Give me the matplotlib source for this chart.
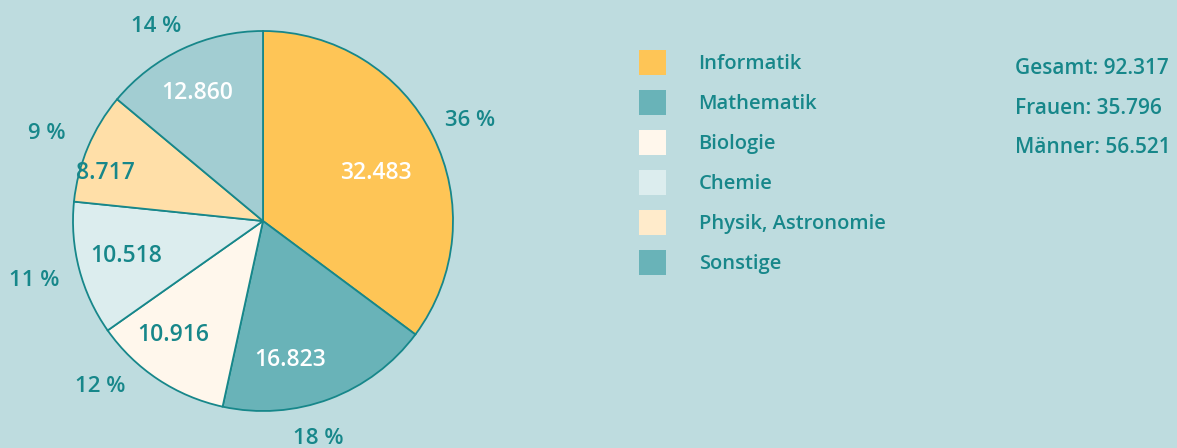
import numpy as np
import matplotlib.pyplot as plt
from matplotlib.patches import Patch

# Daten
faecher = ['Informatik', 'Mathematik', 'Biologie', 'Chemie', 'Physik, Astronomie', 'Sonstige']
anzahl = [32483, 16823, 10916, 10518, 8717, 12860]
prozent = [36, 18, 12, 11, 9, 14]
frauen = 35796
maenner = 56521

# Farben
bg = '#bedcdf'
teal = '#17878a'
pie_farben = ['#fec556', '#69b3b8', '#fff7ec', '#dcedee', '#ffdfa8', '#a2cdd2']
legende_farben = ['#fec556', '#69b3b8', '#fff7ec', '#dcedee', '#ffebcb', '#69b3b8']
wert_farben = ['white', 'white', teal, teal, teal, 'white']

# Feinjustierung der Beschriftungen (Winkelversatz in Grad, Abstand in Radien)
prozent_versatz = [(-0.2, 1.22), (-6.2, 1.17), (-11.4, 1.21), (-0.6, 1.24), (0.3, 1.23), (3.4, 1.18)]
wert_versatz = [(-2.2, 0.65), (-9.3, 0.73), (-5.4, 0.75), (-1.6, 0.74), (4.9, 0.87), (1.6, 0.77)]


def de(n):
    return f'{n:,}'.replace(',', '.')


plt.rcParams['font.family'] = ['Open Sans', 'DejaVu Sans']

W, H = 1177, 448
cx, cy, r = 263, 227, 190
fig = plt.figure(figsize=(W / 100, H / 100), dpi=100, facecolor=bg)
ax = fig.add_axes([0, 0, 1, 1], facecolor=bg)

wedges, texts, autotexts = ax.pie(
    anzahl, colors=pie_farben, startangle=90, counterclock=False,
    center=(cx, cy), radius=r, frame=True,
    labels=[f'{p} %' for p in prozent], labeldistance=1.2,
    autopct='%1.0f', pctdistance=0.75,
    wedgeprops=dict(edgecolor=teal, linewidth=1.3),
    textprops=dict(fontsize=16, color=teal, fontweight='semibold'))
ax.set_xlim(0, W)
ax.set_ylim(0, H)
ax.set_aspect('equal')
ax.axis('off')

for w, t, a, (dp, rp), (dw, rw), c, v in zip(wedges, texts, autotexts,
                                               prozent_versatz, wert_versatz,
                                               wert_farben, anzahl):
    mitte = (w.theta1 + w.theta2) / 2
    phi = np.deg2rad(mitte + dp)
    t.set_position((cx + rp * r * np.cos(phi), cy + rp * r * np.sin(phi)))
    t.set_ha('center')
    t.set_va('center_baseline')
    phi = np.deg2rad(mitte + dw)
    a.set_position((cx + rw * r * np.cos(phi), cy + rw * r * np.sin(phi)))
    a.set_text(de(v))
    a.set_color(c)
    a.set_fontsize(16.5)
    a.set_va('center_baseline')

handles = [Patch(facecolor=c, edgecolor='none') for c in legende_farben]
leg = ax.legend(handles, faecher, loc='upper left', bbox_to_anchor=(639 / W, 1 - 50 / H),
                frameon=False, fontsize=14.5, handlelength=1.36, handleheight=1.5,
                handletextpad=1.6, labelspacing=0.77, borderaxespad=0, borderpad=0)
for t in leg.get_texts():
    t.set_color(teal)
    t.set_fontweight('semibold')

gesamt = sum(anzahl)
info = [f'Gesamt: {de(gesamt)}', f'Frauen: {de(frauen)}', f'Männer: {de(maenner)}']
for i, s in enumerate(info):
    fig.text(1015 / W, 1 - (66 + i * 39.5) / H, s, fontsize=15, color=teal,
             fontweight='semibold', ha='left', va='center_baseline')

fig.savefig('out.png', dpi=100, facecolor=bg)
